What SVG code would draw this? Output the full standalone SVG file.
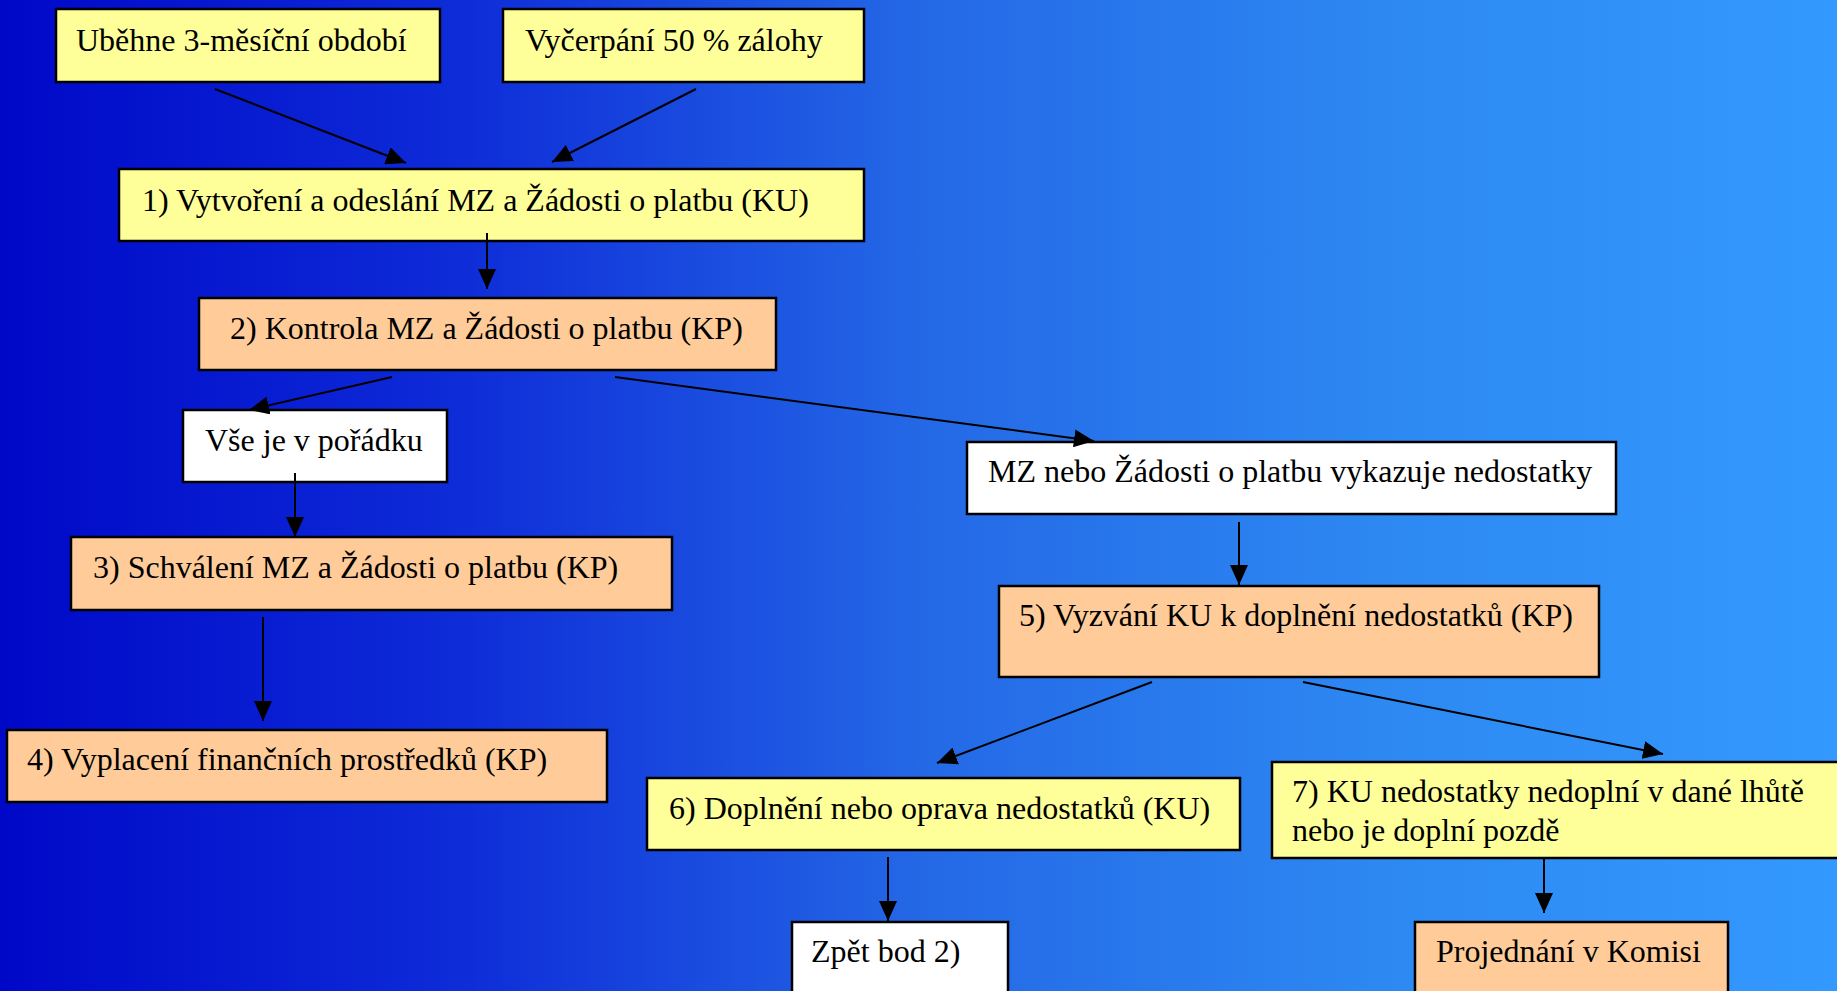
<svg xmlns="http://www.w3.org/2000/svg" width="1837" height="991" viewBox="0 0 1837 991">
<defs>
<linearGradient id="bg" x1="0" y1="0" x2="1" y2="0">
<stop offset="0" stop-color="#0008C8"/>
<stop offset="0.25" stop-color="#0E2CD8"/>
<stop offset="0.5" stop-color="#2468E6"/>
<stop offset="0.75" stop-color="#2D88F2"/>
<stop offset="1" stop-color="#3399FF"/>
</linearGradient>
<marker id="ah" markerUnits="userSpaceOnUse" markerWidth="20" markerHeight="18" refX="20" refY="9" orient="auto">
<path d="M0,0 L20,9 L0,18 z" fill="#000"/>
</marker>
</defs>
<style>
.y{fill:#FFFF99;stroke:#000;stroke-width:2.5}
.o{fill:#FFCC99;stroke:#000;stroke-width:2.5}
.w{fill:#FFFFFF;stroke:#000;stroke-width:2.5}
text{font-family:"Liberation Serif","Times New Roman",serif;font-size:32px;fill:#000}
.c line{stroke:#000;stroke-width:2;marker-end:url(#ah)}
</style>
<rect x="0" y="0" width="1837" height="991" fill="url(#bg)"/>
<g id="n-a"><rect class="y" x="56" y="9" width="384" height="73"/><text x="76" y="51">Uběhne 3-měsíční období</text></g>
<g id="n-b"><rect class="y" x="503" y="9" width="361" height="73"/><text x="525" y="51">Vyčerpání 50 % zálohy</text></g>
<g id="n1"><rect class="y" x="119" y="169" width="745" height="72"/><text x="142" y="211">1) Vytvoření a odeslání MZ a Žádosti o platbu (KU)</text></g>
<g id="n2"><rect class="o" x="199" y="298" width="577" height="72"/><text x="230" y="339">2) Kontrola MZ a Žádosti o platbu (KP)</text></g>
<g id="n-ok"><rect class="w" x="183" y="410" width="264" height="72"/><text x="205" y="451">Vše je v pořádku</text></g>
<g id="n-bad"><rect class="w" x="967" y="442" width="649" height="72"/><text x="988" y="482">MZ nebo Žádosti o platbu vykazuje nedostatky</text></g>
<g id="n3"><rect class="o" x="71" y="537" width="601" height="73"/><text x="93" y="578">3) Schválení MZ a Žádosti o platbu (KP)</text></g>
<g id="n4"><rect class="o" x="7" y="730" width="600" height="72"/><text x="27" y="770">4) Vyplacení finančních prostředků (KP)</text></g>
<g id="n5"><rect class="o" x="999" y="586" width="600" height="91"/><text x="1019" y="626">5) Vyzvání KU k doplnění nedostatků (KP)</text></g>
<g id="n6"><rect class="y" x="647" y="778" width="593" height="72"/><text x="669" y="819">6) Doplnění nebo oprava nedostatků (KU)</text></g>
<g id="n7"><rect class="y" x="1272" y="762" width="580" height="96"/><text x="1292" y="802">7) KU nedostatky nedoplní v dané lhůtě</text><text x="1292" y="841">nebo je doplní pozdě</text></g>
<g id="n-back"><rect class="w" x="792" y="922" width="216" height="80"/><text x="811" y="962">Zpět bod 2)</text></g>
<g id="n-kom"><rect class="o" x="1415" y="922" width="313" height="80"/><text x="1436" y="962">Projednání v Komisi</text></g>
<g id="connectors" class="c">
<line x1="215" y1="89" x2="406" y2="163"/>
<line x1="696" y1="89" x2="552" y2="162"/>
<line x1="487" y1="233" x2="487" y2="289"/>
<line x1="392" y1="377" x2="249" y2="410"/>
<line x1="615" y1="377" x2="1094" y2="441"/>
<line x1="295" y1="473" x2="295" y2="537"/>
<line x1="263" y1="617" x2="263" y2="721"/>
<line x1="1239" y1="522" x2="1239" y2="585"/>
<line x1="1152" y1="682" x2="937" y2="763"/>
<line x1="1303" y1="682" x2="1663" y2="754"/>
<line x1="888" y1="857" x2="888" y2="921"/>
<line x1="1544" y1="858" x2="1544" y2="913"/>
</g>
</svg>
